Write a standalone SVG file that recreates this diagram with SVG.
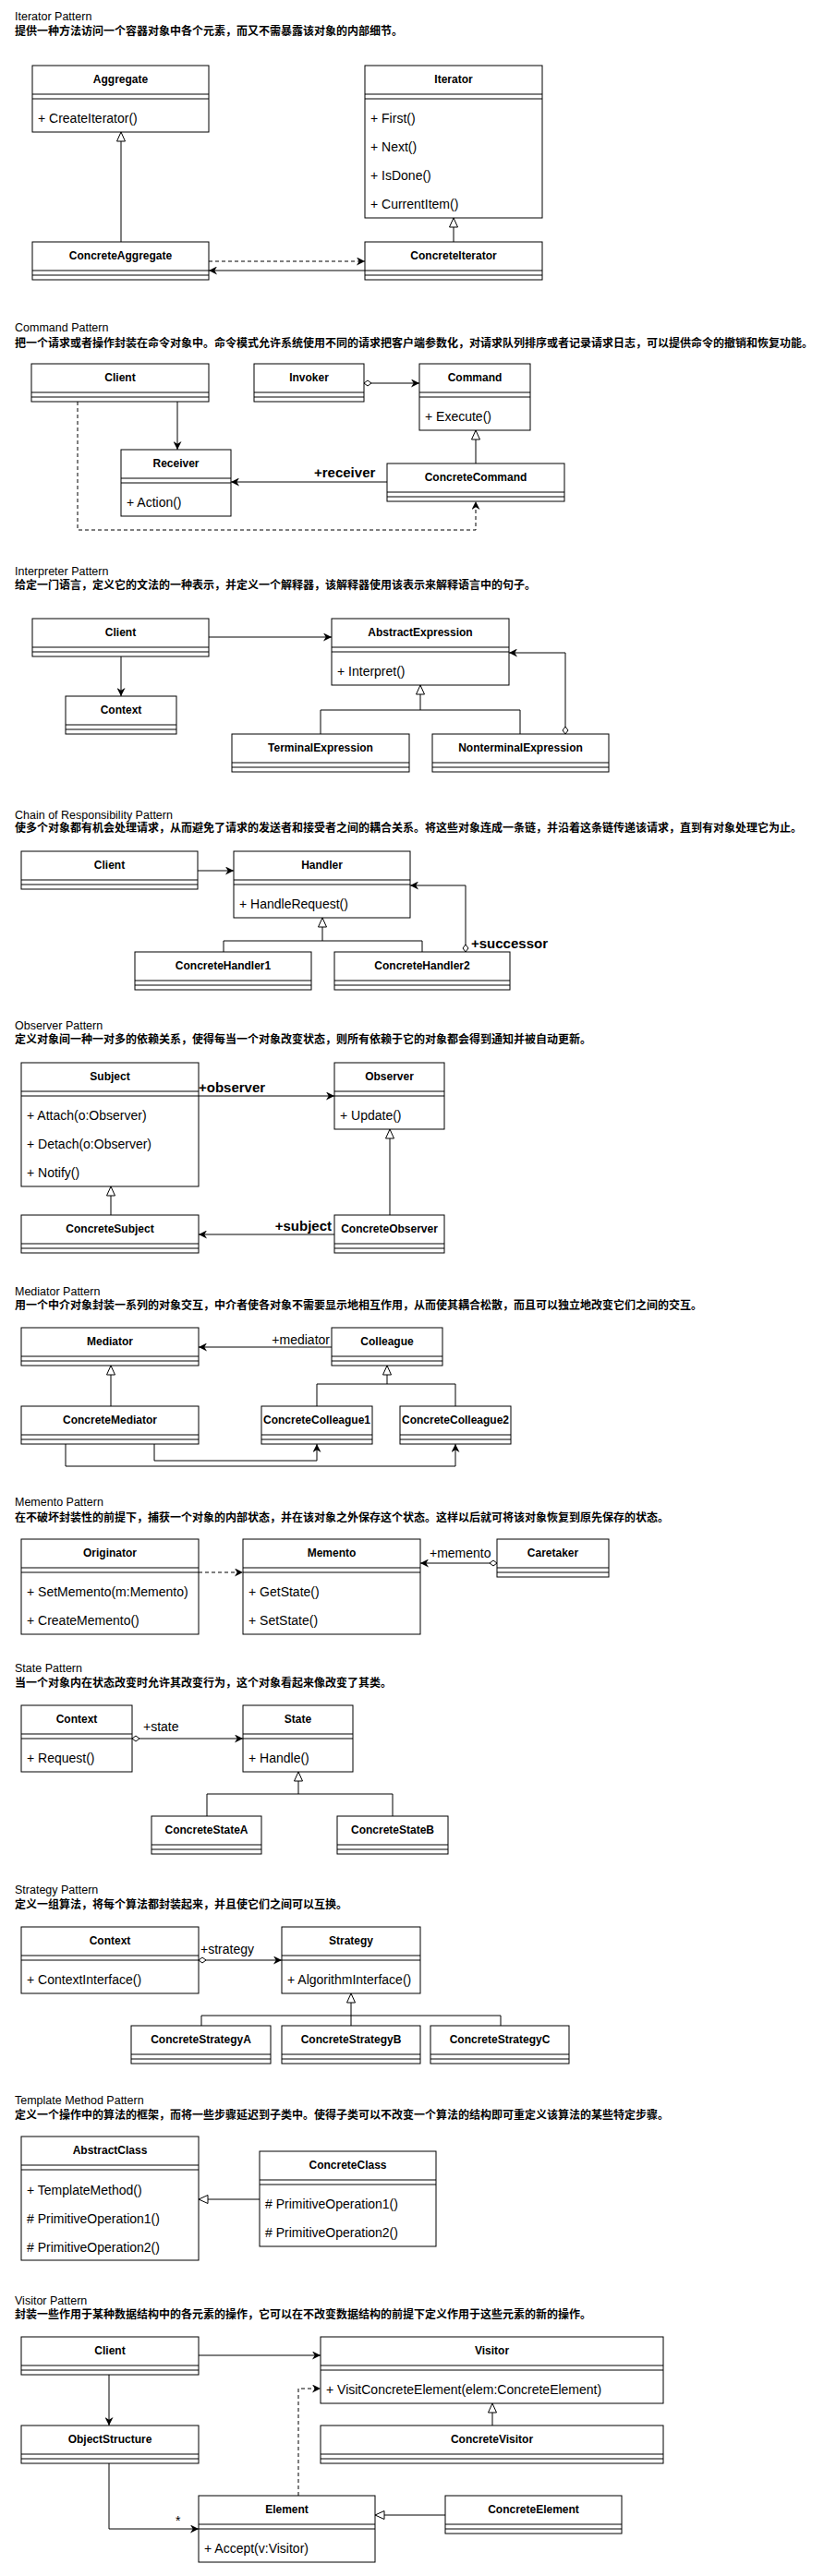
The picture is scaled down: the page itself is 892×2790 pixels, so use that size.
<svg xmlns="http://www.w3.org/2000/svg" width="892" height="2790" viewBox="0 0 892 2790">
<style>
.bg{fill:#fff}
.b{fill:#fff;stroke:#000;stroke-width:1}
.s{fill:none;stroke:#000;stroke-width:1}
.c{font-family:"Liberation Sans",Arial,sans-serif;font-size:12px;font-weight:bold;text-anchor:middle;fill:#000}
.m{font-family:"Liberation Sans",Arial,sans-serif;font-size:14px;fill:#000}
.t{font-family:"Liberation Sans",Arial,sans-serif;font-size:12.5px;fill:#000}
.d{font-family:"Liberation Sans","Noto Sans CJK SC",sans-serif;font-size:12px;font-weight:bold;fill:#000}
.lb{font-family:"Liberation Sans",Arial,sans-serif;font-size:15px;font-weight:bold;fill:#000}
.ln{font-family:"Liberation Sans",Arial,sans-serif;font-size:14px;fill:#000}
.e{fill:none;stroke:#000;stroke-width:1}
.dash{stroke-dasharray:4 3}
.arr{marker-end:url(#arrow)}
.gen{marker-end:url(#tri)}
.agg{marker-start:url(#dia)}
</style>
<defs>
<marker id="arrow" viewBox="0 0 10 10" refX="10" refY="5" markerWidth="9" markerHeight="9" markerUnits="userSpaceOnUse" orient="auto">
<path d="M0,0 L10,5 L0,10 L3,5 z" fill="#000"/>
</marker>
<marker id="tri" viewBox="-1 -1 12 12" refX="10" refY="5" markerWidth="12" markerHeight="12" markerUnits="userSpaceOnUse" orient="auto">
<path d="M0,0.5 L10,5 L0,9.5 z" fill="#fff" stroke="#000" stroke-width="1"/>
</marker>
<marker id="dia" viewBox="-1 -1 10 8" refX="0" refY="3" markerWidth="10" markerHeight="8" markerUnits="userSpaceOnUse" orient="auto">
<path d="M0,3 L4,0 L8,3 L4,6 z" fill="#fff" stroke="#000" stroke-width="1"/>
</marker>
</defs>
<rect class="bg" x="0" y="0" width="892" height="2790"/>

<g id="titles">
<text class="t" x="16" y="22">Iterator Pattern</text>
<text class="d" x="16" y="38">提供一种方法访问一个容器对象中各个元素，而又不需暴露该对象的内部细节。</text>
<text class="t" x="16" y="359">Command Pattern</text>
<text class="d" x="16" y="376">把一个请求或者操作封装在命令对象中。命令模式允许系统使用不同的请求把客户端参数化，对请求队列排序或者记录请求日志，可以提供命令的撤销和恢复功能。</text>
<text class="t" x="16" y="623">Interpreter Pattern</text>
<text class="d" x="16" y="638">给定一门语言，定义它的文法的一种表示，并定义一个解释器，该解释器使用该表示来解释语言中的句子。</text>
<text class="t" x="16" y="887">Chain of Responsibility Pattern</text>
<text class="d" x="16" y="901">使多个对象都有机会处理请求，从而避免了请求的发送者和接受者之间的耦合关系。将这些对象连成一条链，并沿着这条链传递该请求，直到有对象处理它为止。</text>
<text class="t" x="16" y="1115">Observer Pattern</text>
<text class="d" x="16" y="1130">定义对象间一种一对多的依赖关系，使得每当一个对象改变状态，则所有依赖于它的对象都会得到通知并被自动更新。</text>
<text class="t" x="16" y="1403">Mediator Pattern</text>
<text class="d" x="16" y="1418">用一个中介对象封装一系列的对象交互，中介者使各对象不需要显示地相互作用，从而使其耦合松散，而且可以独立地改变它们之间的交互。</text>
<text class="t" x="16" y="1631">Memento Pattern</text>
<text class="d" x="16" y="1648">在不破坏封装性的前提下，捕获一个对象的内部状态，并在该对象之外保存这个状态。这样以后就可将该对象恢复到原先保存的状态。</text>
<text class="t" x="16" y="1811">State Pattern</text>
<text class="d" x="16" y="1827">当一个对象内在状态改变时允许其改变行为，这个对象看起来像改变了其类。</text>
<text class="t" x="16" y="2051">Strategy Pattern</text>
<text class="d" x="16" y="2067">定义一组算法，将每个算法都封装起来，并且使它们之间可以互换。</text>
<text class="t" x="16" y="2279">Template Method Pattern</text>
<text class="d" x="16" y="2295">定义一个操作中的算法的框架，而将一些步骤延迟到子类中。使得子类可以不改变一个算法的结构即可重定义该算法的某些特定步骤。</text>
<text class="t" x="16" y="2496">Visitor Pattern</text>
<text class="d" x="16" y="2511">封装一些作用于某种数据结构中的各元素的操作，它可以在不改变数据结构的前提下定义作用于这些元素的新的操作。</text>
</g>

<g id="connectors">
<!-- Iterator -->
<path class="e gen" d="M131,262 V143"/>
<path class="e gen" d="M491,262 V236"/>
<path class="e dash arr" d="M226,283 H395"/>
<path class="e arr" d="M395,293 H226"/>
<!-- Command -->
<path class="e agg arr" d="M394,415 H454"/>
<path class="e arr" d="M192,435 V487"/>
<path class="e gen" d="M515,502 V466"/>
<path class="e arr" d="M419,522 H250"/>
<text class="lb" x="340" y="517">+receiver</text>
<path class="e dash arr" d="M84,435 V574 H515 V543"/>
<!-- Interpreter -->
<path class="e arr" d="M226,690 H359"/>
<path class="e arr" d="M131,711 V754"/>
<path class="e gen" d="M455,769 V742"/>
<path class="e" d="M347,795 V769 H563 V795"/>
<path class="e agg arr" d="M612,795 V707 H551"/>
<!-- Chain -->
<path class="e arr" d="M214,943 H253"/>
<path class="e gen" d="M349,1019 V994"/>
<path class="e" d="M242,1031 V1019 H457 V1031"/>
<path class="e agg arr" d="M504,1031 V959 H444"/>
<text class="lb" x="510" y="1027">+successor</text>
<!-- Observer -->
<path class="e arr" d="M215,1187 H362"/>
<text class="lb" x="215" y="1183">+observer</text>
<path class="e gen" d="M120,1316 V1285"/>
<path class="e gen" d="M422,1316 V1223"/>
<path class="e arr" d="M362,1337 H215"/>
<text class="lb" x="359" y="1333" text-anchor="end">+subject</text>
<!-- Mediator -->
<path class="e arr" d="M359,1459 H215"/>
<text class="ln" x="357" y="1456" text-anchor="end">+mediator</text>
<path class="e gen" d="M120,1523 V1479"/>
<path class="e gen" d="M419,1499 V1479"/>
<path class="e" d="M343,1523 V1499 H493 V1523"/>
<path class="e arr" d="M167,1564 V1582 H343 V1564"/>
<path class="e arr" d="M71,1564 V1588 H493 V1564"/>
<!-- Memento -->
<path class="e dash arr" d="M215,1703 H263"/>
<path class="e agg arr" d="M538,1693 H455"/>
<text class="ln" x="465" y="1687">+memento</text>
<!-- State -->
<path class="e agg arr" d="M143,1883 H263"/>
<text class="ln" x="155" y="1875">+state</text>
<path class="e gen" d="M323,1943 V1919"/>
<path class="e" d="M224,1967 V1943 H425 V1967"/>
<!-- Strategy -->
<path class="e agg arr" d="M215,2123 H305"/>
<text class="ln" x="217" y="2116">+strategy</text>
<path class="e gen" d="M380,2194 V2159"/>
<path class="e" d="M218,2194 V2183 H542 V2194"/>
<!-- Template -->
<path class="e gen" d="M281,2382 H215"/>
<!-- Visitor -->
<path class="e arr" d="M215,2551 H347"/>
<path class="e arr" d="M118,2572 V2627"/>
<path class="e arr" d="M118,2668 V2739 H215"/>
<text class="ln" x="190" y="2735" font-size="10">*</text>
<path class="e dash arr" d="M323,2703 V2587 H347"/>
<path class="e gen" d="M533,2627 V2603"/>
<path class="e gen" d="M482,2724 H406"/>
</g>

<!-- Iterator nodes -->
<g id="it-aggregate"><rect class="b" x="35" y="71" width="191" height="72"/><path class="s" d="M35,102H226M35,107H226"/><text class="c" x="130.5" y="90">Aggregate</text><text class="m" x="41" y="133">+ CreateIterator()</text></g>
<g id="it-iterator"><rect class="b" x="395" y="71" width="192" height="165"/><path class="s" d="M395,102H587M395,107H587"/><text class="c" x="491" y="90">Iterator</text><text class="m" x="401" y="133">+ First()</text><text class="m" x="401" y="164">+ Next()</text><text class="m" x="401" y="195">+ IsDone()</text><text class="m" x="401" y="226">+ CurrentItem()</text></g>
<g id="it-concreteaggregate"><rect class="b" x="35" y="262" width="191" height="41"/><path class="s" d="M35,293H226M35,298H226"/><text class="c" x="130.5" y="281">ConcreteAggregate</text></g>
<g id="it-concreteiterator"><rect class="b" x="395" y="262" width="192" height="41"/><path class="s" d="M395,293H587M395,298H587"/><text class="c" x="491" y="281">ConcreteIterator</text></g>

<!-- Command nodes -->
<g id="cm-client"><rect class="b" x="34" y="394" width="192" height="41"/><path class="s" d="M34,425H226M34,430H226"/><text class="c" x="130" y="413">Client</text></g>
<g id="cm-invoker"><rect class="b" x="275" y="394" width="119" height="41"/><path class="s" d="M275,425H394M275,430H394"/><text class="c" x="334.5" y="413">Invoker</text></g>
<g id="cm-command"><rect class="b" x="454" y="394" width="120" height="72"/><path class="s" d="M454,425H574M454,430H574"/><text class="c" x="514" y="413">Command</text><text class="m" x="460" y="456">+ Execute()</text></g>
<g id="cm-receiver"><rect class="b" x="131" y="487" width="119" height="72"/><path class="s" d="M131,518H250M131,523H250"/><text class="c" x="190.5" y="506">Receiver</text><text class="m" x="137" y="549">+ Action()</text></g>
<g id="cm-concretecommand"><rect class="b" x="419" y="502" width="192" height="41"/><path class="s" d="M419,533H611M419,538H611"/><text class="c" x="515" y="521">ConcreteCommand</text></g>

<!-- Interpreter nodes -->
<g id="in-client"><rect class="b" x="35" y="670" width="191" height="41"/><path class="s" d="M35,701H226M35,706H226"/><text class="c" x="130.5" y="689">Client</text></g>
<g id="in-abstractexpression"><rect class="b" x="359" y="670" width="192" height="72"/><path class="s" d="M359,701H551M359,706H551"/><text class="c" x="455" y="689">AbstractExpression</text><text class="m" x="365" y="732">+ Interpret()</text></g>
<g id="in-context"><rect class="b" x="71" y="754" width="120" height="41"/><path class="s" d="M71,785H191M71,790H191"/><text class="c" x="131" y="773">Context</text></g>
<g id="in-terminalexpression"><rect class="b" x="251" y="795" width="192" height="41"/><path class="s" d="M251,826H443M251,831H443"/><text class="c" x="347" y="814">TerminalExpression</text></g>
<g id="in-nonterminalexpression"><rect class="b" x="468" y="795" width="191" height="41"/><path class="s" d="M468,826H659M468,831H659"/><text class="c" x="563.5" y="814">NonterminalExpression</text></g>

<!-- Chain nodes -->
<g id="ch-client"><rect class="b" x="23" y="922" width="191" height="41"/><path class="s" d="M23,953H214M23,958H214"/><text class="c" x="118.5" y="941">Client</text></g>
<g id="ch-handler"><rect class="b" x="253" y="922" width="191" height="72"/><path class="s" d="M253,953H444M253,958H444"/><text class="c" x="348.5" y="941">Handler</text><text class="m" x="259" y="984">+ HandleRequest()</text></g>
<g id="ch-concretehandler1"><rect class="b" x="146" y="1031" width="191" height="41"/><path class="s" d="M146,1062H337M146,1067H337"/><text class="c" x="241.5" y="1050">ConcreteHandler1</text></g>
<g id="ch-concretehandler2"><rect class="b" x="362" y="1031" width="190" height="41"/><path class="s" d="M362,1062H552M362,1067H552"/><text class="c" x="457" y="1050">ConcreteHandler2</text></g>

<!-- Observer nodes -->
<g id="ob-subject"><rect class="b" x="23" y="1151" width="192" height="134"/><path class="s" d="M23,1182H215M23,1187H215"/><text class="c" x="119" y="1170">Subject</text><text class="m" x="29" y="1213">+ Attach(o:Observer)</text><text class="m" x="29" y="1244">+ Detach(o:Observer)</text><text class="m" x="29" y="1275">+ Notify()</text></g>
<g id="ob-observer"><rect class="b" x="362" y="1151" width="119" height="72"/><path class="s" d="M362,1182H481M362,1187H481"/><text class="c" x="421.5" y="1170">Observer</text><text class="m" x="368" y="1213">+ Update()</text></g>
<g id="ob-concretesubject"><rect class="b" x="23" y="1316" width="192" height="41"/><path class="s" d="M23,1347H215M23,1352H215"/><text class="c" x="119" y="1335">ConcreteSubject</text></g>
<g id="ob-concreteobserver"><rect class="b" x="362" y="1316" width="119" height="41"/><path class="s" d="M362,1347H481M362,1352H481"/><text class="c" x="421.5" y="1335">ConcreteObserver</text></g>

<!-- Mediator nodes -->
<g id="me-mediator"><rect class="b" x="23" y="1438" width="192" height="41"/><path class="s" d="M23,1469H215M23,1474H215"/><text class="c" x="119" y="1457">Mediator</text></g>
<g id="me-colleague"><rect class="b" x="359" y="1438" width="120" height="41"/><path class="s" d="M359,1469H479M359,1474H479"/><text class="c" x="419" y="1457">Colleague</text></g>
<g id="me-concretemediator"><rect class="b" x="23" y="1523" width="192" height="41"/><path class="s" d="M23,1554H215M23,1559H215"/><text class="c" x="119" y="1542">ConcreteMediator</text></g>
<g id="me-concretecolleague1"><rect class="b" x="283" y="1523" width="120" height="41"/><path class="s" d="M283,1554H403M283,1559H403"/><text class="c" x="343" y="1542">ConcreteColleague1</text></g>
<g id="me-concretecolleague2"><rect class="b" x="433" y="1523" width="120" height="41"/><path class="s" d="M433,1554H553M433,1559H553"/><text class="c" x="493" y="1542">ConcreteColleague2</text></g>

<!-- Memento nodes -->
<g id="mm-originator"><rect class="b" x="23" y="1667" width="192" height="103"/><path class="s" d="M23,1698H215M23,1703H215"/><text class="c" x="119" y="1686">Originator</text><text class="m" x="29" y="1729">+ SetMemento(m:Memento)</text><text class="m" x="29" y="1760">+ CreateMemento()</text></g>
<g id="mm-memento"><rect class="b" x="263" y="1667" width="192" height="103"/><path class="s" d="M263,1698H455M263,1703H455"/><text class="c" x="359" y="1686">Memento</text><text class="m" x="269" y="1729">+ GetState()</text><text class="m" x="269" y="1760">+ SetState()</text></g>
<g id="mm-caretaker"><rect class="b" x="538" y="1667" width="121" height="41"/><path class="s" d="M538,1698H659M538,1703H659"/><text class="c" x="598.5" y="1686">Caretaker</text></g>

<!-- State nodes -->
<g id="st-context"><rect class="b" x="23" y="1847" width="120" height="72"/><path class="s" d="M23,1878H143M23,1883H143"/><text class="c" x="83" y="1866">Context</text><text class="m" x="29" y="1909">+ Request()</text></g>
<g id="st-state"><rect class="b" x="263" y="1847" width="119" height="72"/><path class="s" d="M263,1878H382M263,1883H382"/><text class="c" x="322.5" y="1866">State</text><text class="m" x="269" y="1909">+ Handle()</text></g>
<g id="st-concretestatea"><rect class="b" x="164" y="1967" width="119" height="41"/><path class="s" d="M164,1998H283M164,2003H283"/><text class="c" x="223.5" y="1986">ConcreteStateA</text></g>
<g id="st-concretestateb"><rect class="b" x="365" y="1967" width="120" height="41"/><path class="s" d="M365,1998H485M365,2003H485"/><text class="c" x="425" y="1986">ConcreteStateB</text></g>

<!-- Strategy nodes -->
<g id="sg-context"><rect class="b" x="23" y="2087" width="192" height="72"/><path class="s" d="M23,2118H215M23,2123H215"/><text class="c" x="119" y="2106">Context</text><text class="m" x="29" y="2149">+ ContextInterface()</text></g>
<g id="sg-strategy"><rect class="b" x="305" y="2087" width="150" height="72"/><path class="s" d="M305,2118H455M305,2123H455"/><text class="c" x="380" y="2106">Strategy</text><text class="m" x="311" y="2149">+ AlgorithmInterface()</text></g>
<g id="sg-concretestrategya"><rect class="b" x="142" y="2194" width="151" height="41"/><path class="s" d="M142,2225H293M142,2230H293"/><text class="c" x="217.5" y="2213">ConcreteStrategyA</text></g>
<g id="sg-concretestrategyb"><rect class="b" x="305" y="2194" width="150" height="41"/><path class="s" d="M305,2225H455M305,2230H455"/><text class="c" x="380" y="2213">ConcreteStrategyB</text></g>
<g id="sg-concretestrategyc"><rect class="b" x="466" y="2194" width="150" height="41"/><path class="s" d="M466,2225H616M466,2230H616"/><text class="c" x="541" y="2213">ConcreteStrategyC</text></g>

<!-- Template nodes -->
<g id="tm-abstractclass"><rect class="b" x="23" y="2314" width="192" height="134"/><path class="s" d="M23,2345H215M23,2350H215"/><text class="c" x="119" y="2333">AbstractClass</text><text class="m" x="29" y="2377">+ TemplateMethod()</text><text class="m" x="29" y="2408"># PrimitiveOperation1()</text><text class="m" x="29" y="2439"># PrimitiveOperation2()</text></g>
<g id="tm-concreteclass"><rect class="b" x="281" y="2330" width="191" height="103"/><path class="s" d="M281,2361H472M281,2366H472"/><text class="c" x="376.5" y="2349">ConcreteClass</text><text class="m" x="287" y="2392"># PrimitiveOperation1()</text><text class="m" x="287" y="2423"># PrimitiveOperation2()</text></g>

<!-- Visitor nodes -->
<g id="vi-client"><rect class="b" x="23" y="2531" width="192" height="41"/><path class="s" d="M23,2562H215M23,2567H215"/><text class="c" x="119" y="2550">Client</text></g>
<g id="vi-visitor"><rect class="b" x="347" y="2531" width="371" height="72"/><path class="s" d="M347,2562H718M347,2567H718"/><text class="c" x="532.5" y="2550">Visitor</text><text class="m" x="353" y="2593">+ VisitConcreteElement(elem:ConcreteElement)</text></g>
<g id="vi-objectstructure"><rect class="b" x="23" y="2627" width="192" height="41"/><path class="s" d="M23,2658H215M23,2663H215"/><text class="c" x="119" y="2646">ObjectStructure</text></g>
<g id="vi-concretevisitor"><rect class="b" x="347" y="2627" width="371" height="41"/><path class="s" d="M347,2658H718M347,2663H718"/><text class="c" x="532.5" y="2646">ConcreteVisitor</text></g>
<g id="vi-element"><rect class="b" x="215" y="2703" width="191" height="72"/><path class="s" d="M215,2734H406M215,2739H406"/><text class="c" x="310.5" y="2722">Element</text><text class="m" x="221" y="2765">+ Accept(v:Visitor)</text></g>
<g id="vi-concreteelement"><rect class="b" x="482" y="2703" width="191" height="41"/><path class="s" d="M482,2734H673M482,2739H673"/><text class="c" x="577.5" y="2722">ConcreteElement</text></g>
</svg>
